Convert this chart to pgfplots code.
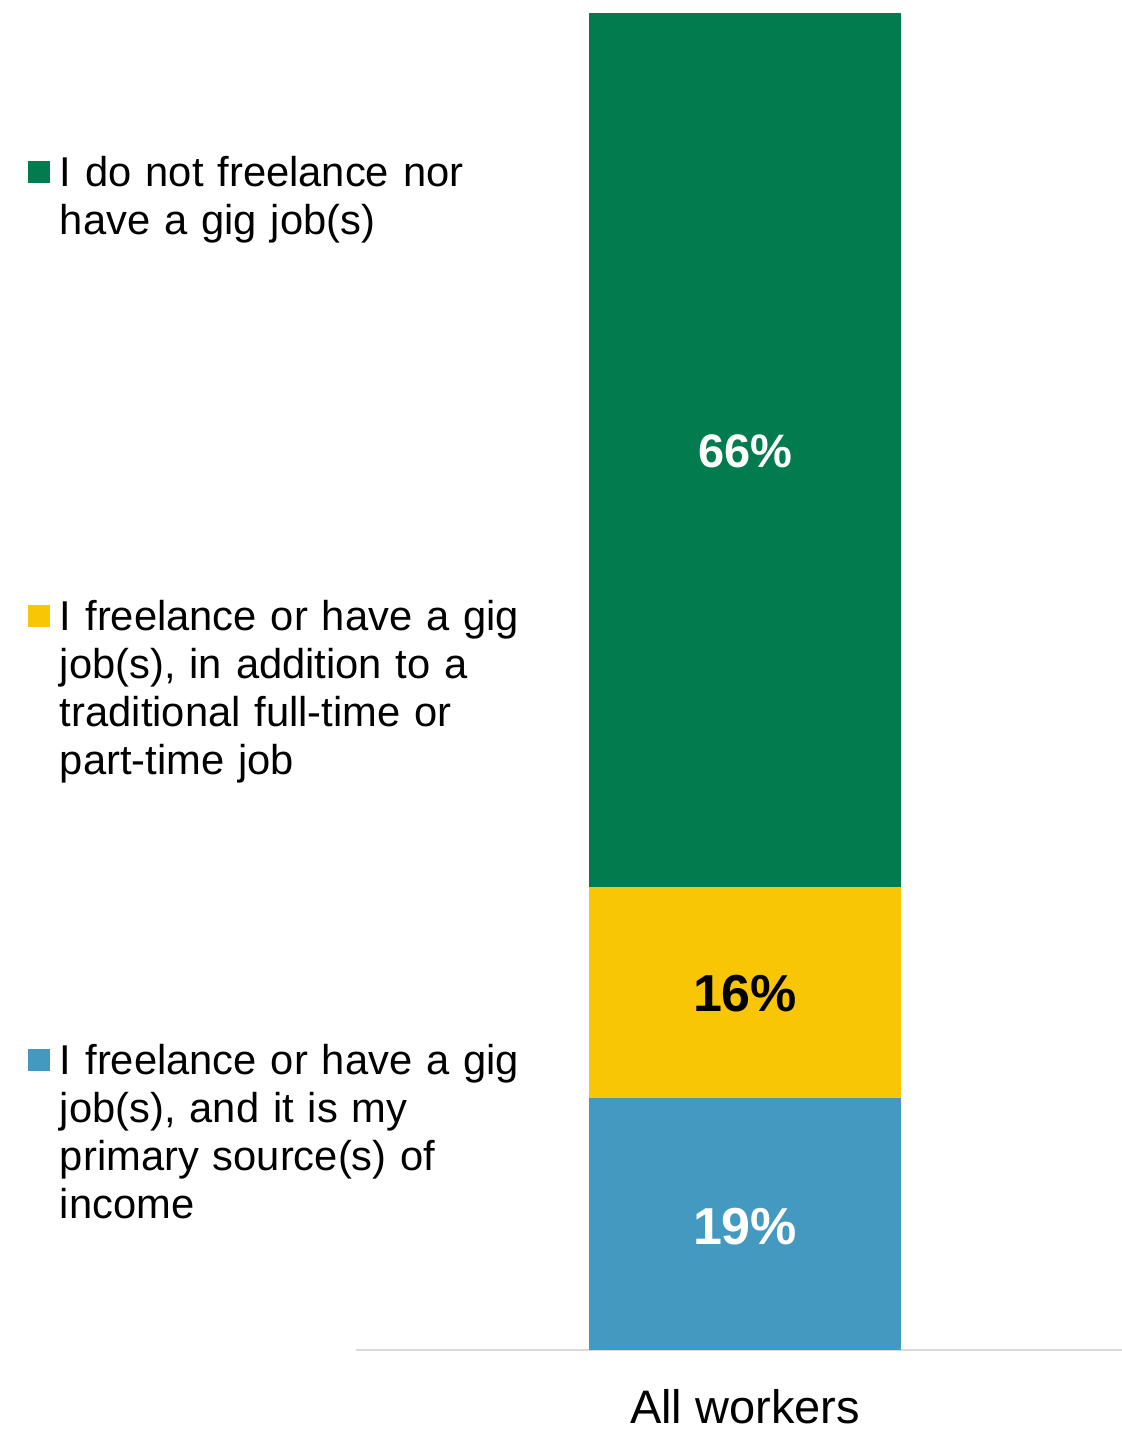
\documentclass[border=0pt]{standalone}
\usepackage{fontspec}
\setmainfont{Liberation Sans}
\usepackage{pgfplots}
\pgfplotsset{compat=1.18}
\definecolor{cgreen}{HTML}{027B4E}
\definecolor{cyellow}{HTML}{F8C605}
\definecolor{cblue}{HTML}{4499C1}
\definecolor{axisgray}{HTML}{D9D9D9}
\pgfplotsset{chartgeom/.style={
  at={(356bp,79bp)}, anchor=south west,
  scale only axis, width=766bp, height=1337bp,
  xmin=-1, xmax=0.969, ymin=0, ymax=101,
  enlargelimits=false}}
\begin{document}
\begin{tikzpicture}
\useasboundingbox (0,0) rectangle (1122bp,1429bp);
\begin{axis}[
  chartgeom,
  ybar stacked, bar width=312bp,
  hide y axis,
  axis x line*=bottom,
  axis line style={draw=axisgray, line width=2bp, -},
  xtick={0}, xticklabels={All workers},
  major tick length=0pt,
  xticklabel style={anchor=base, inner sep=0pt, yshift=-73bp, font=\fontsize{47bp}{54bp}\selectfont},
  every axis plot post/.append style={legend image code/.code={\fill[##1,draw=none] (0bp,4bp) rectangle (22bp,26bp);}},
  reverse legend,
  legend cell align=left,
  legend style={at={(-0.4282,0.8923)}, anchor=north west, draw=none, fill=none,
    inner sep=0pt, outer sep=0pt, column sep=10bp, row sep=0pt,
    font=\fontsize{41.7bp}{48bp}\selectfont,
    nodes={anchor=base west, inner sep=0pt, outer sep=0pt, text width=480bp, align=left, text height=30bp, text depth=414bp}},
]
\addplot[fill=cblue, draw=none] coordinates {(0,19)};
\addlegendentry{I freelance or have a gig\\job(s), and it is my\\primary source(s) of\\income}
\addplot[fill=cyellow, draw=none] coordinates {(0,16)};
\addlegendentry{I freelance or have a gig\\job(s), in addition to a\\traditional full-time or\\part-time job}
\addplot[fill=cgreen, draw=none] coordinates {(0,66)};
\addlegendentry{I do not freelance nor\\have a gig job(s)}
\end{axis}
\begin{axis}[
  chartgeom,
  hide axis,
  point meta=explicit symbolic,
  nodes near coords,
  every node near coord/.append style={anchor=center, inner sep=0pt},
]
\addplot[draw=none, mark=none, every node near coord/.append style={text=white, font=\bfseries\fontsize{52bp}{60bp}\selectfont}]
  coordinates {(0,9.3) [19\%]};
\addplot[draw=none, mark=none, every node near coord/.append style={text=black, font=\bfseries\fontsize{52bp}{60bp}\selectfont}]
  coordinates {(0,26.9) [16\%]};
\addplot[draw=none, mark=none, every node near coord/.append style={text=white, font=\bfseries\fontsize{47bp}{54bp}\selectfont}]
  coordinates {(0,67.9) [66\%]};
\end{axis}
\end{tikzpicture}
\end{document}
